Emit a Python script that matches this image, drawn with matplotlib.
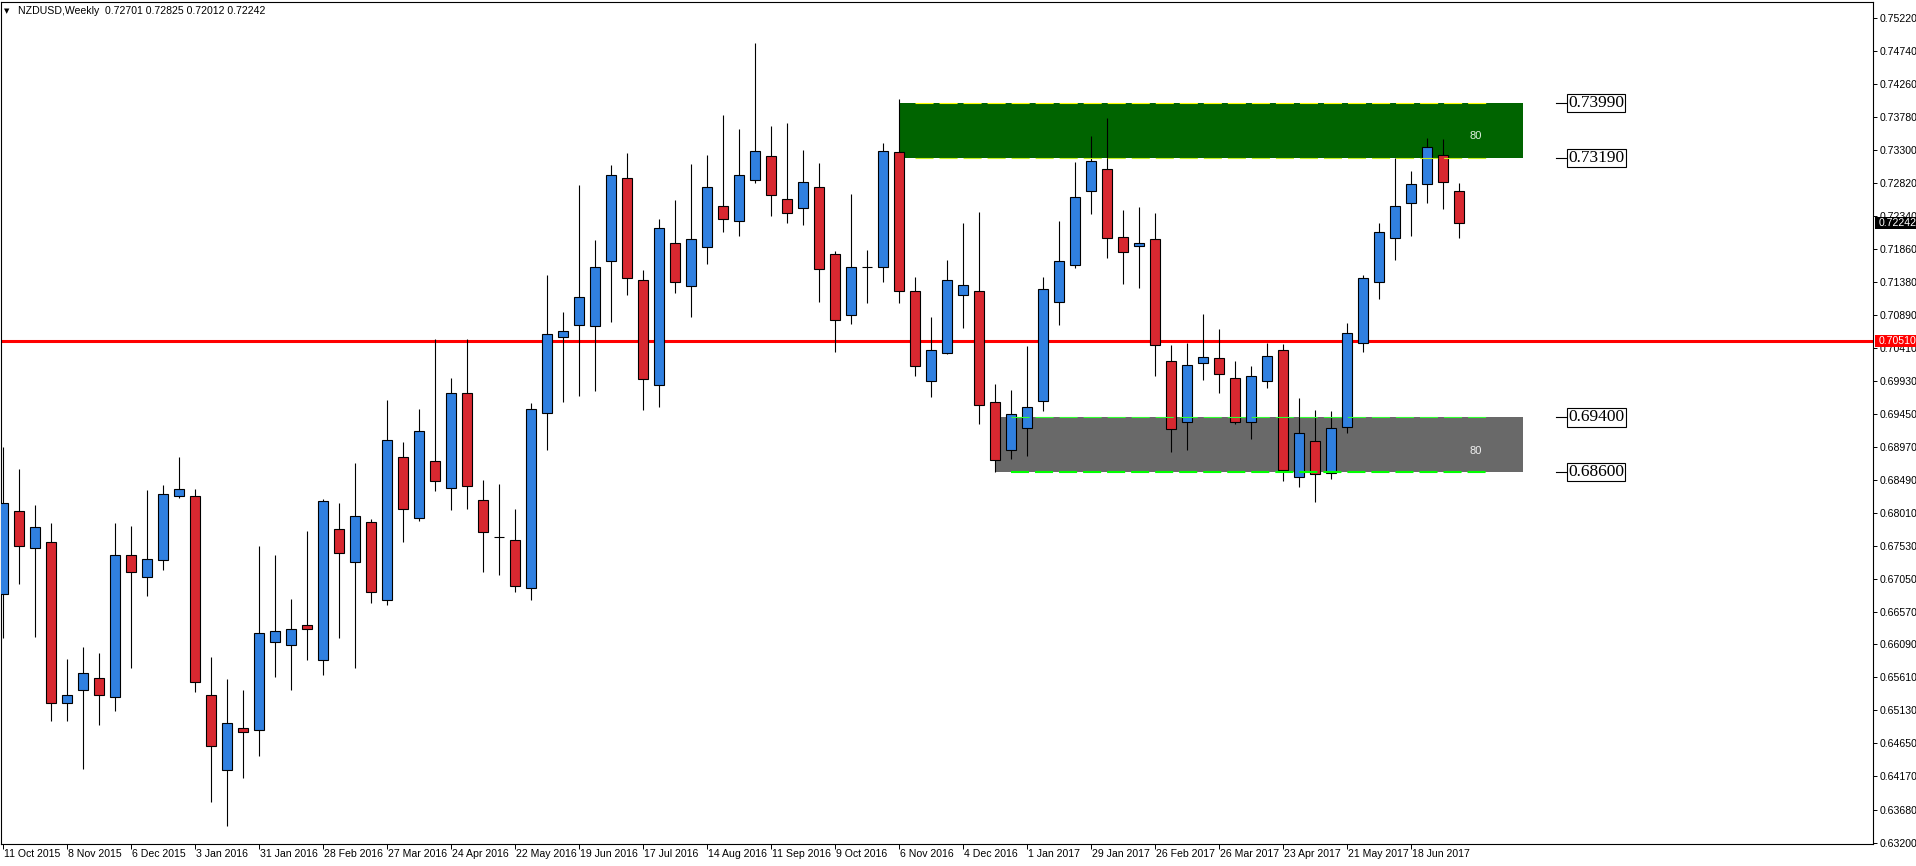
import matplotlib
matplotlib.use('Agg')
import matplotlib.pyplot as plt
from matplotlib import font_manager
from matplotlib.patches import Rectangle

# weekly NZDUSD candles (11 Oct 2015 .. 9 Jul 2017)
opens = [0.6683, 0.6804, 0.6749, 0.6758, 0.6524, 0.6543, 0.6560, 0.6533, 0.6739, 0.6707,
         0.6732, 0.6826, 0.6825, 0.6535, 0.6426, 0.6487, 0.6484, 0.6613, 0.6608, 0.6638,
         0.6586, 0.6778, 0.6730, 0.6787, 0.6674, 0.6882, 0.6794, 0.6876, 0.6837, 0.6975,
         0.6819, 0.6766, 0.6762, 0.6691, 0.6947, 0.7057, 0.7075, 0.7074, 0.7168, 0.7289,
         0.7141, 0.6988, 0.7195, 0.7131, 0.7188, 0.7248, 0.7227, 0.7286, 0.7321, 0.7258,
         0.7245, 0.7276, 0.7179, 0.7090, 0.7159, 0.7159, 0.7327, 0.7125, 0.6993, 0.7034,
         0.7118, 0.7125, 0.6962, 0.6892, 0.6924, 0.6964, 0.7108, 0.7162, 0.7270, 0.7303,
         0.7203, 0.7190, 0.7200, 0.7022, 0.6933, 0.7020, 0.7026, 0.6997, 0.6933, 0.6993,
         0.7039, 0.6853, 0.6905, 0.6859, 0.6926, 0.7048, 0.7137, 0.7201, 0.7252, 0.7280,
         0.7322, 0.72701]
highs = [0.6897, 0.6865, 0.6813, 0.6786, 0.6588, 0.6605, 0.6597, 0.6786, 0.6782, 0.6834,
         0.6842, 0.6883, 0.6836, 0.6591, 0.6559, 0.6543, 0.6753, 0.6740, 0.6675, 0.6775,
         0.6821, 0.6815, 0.6874, 0.6792, 0.6965, 0.6904, 0.6952, 0.7055, 0.6997, 0.7055,
         0.6849, 0.6843, 0.6807, 0.6961, 0.7148, 0.7094, 0.7279, 0.7199, 0.7308, 0.7326,
         0.7155, 0.7229, 0.7257, 0.7310, 0.7323, 0.7381, 0.7361, 0.7486, 0.7365, 0.7369,
         0.7330, 0.7311, 0.7183, 0.7266, 0.7184, 0.7340, 0.7404, 0.7145, 0.7087, 0.7170,
         0.7224, 0.7240, 0.6989, 0.6980, 0.7044, 0.7145, 0.7227, 0.7313, 0.7350, 0.7377,
         0.7243, 0.7247, 0.7238, 0.7045, 0.7048, 0.7091, 0.7069, 0.7022, 0.7015, 0.7049,
         0.7047, 0.6968, 0.6951, 0.6949, 0.7078, 0.7148, 0.7223, 0.7318, 0.7299, 0.7347,
         0.7346, 0.72825]
lows = [0.6618, 0.6697, 0.6620, 0.6497, 0.6497, 0.6428, 0.6492, 0.6512, 0.6575, 0.6680,
        0.6718, 0.6823, 0.6540, 0.6380, 0.6345, 0.6415, 0.6446, 0.6562, 0.6543, 0.6586,
        0.6564, 0.6618, 0.6574, 0.6670, 0.6667, 0.6758, 0.6789, 0.6833, 0.6805, 0.6807,
        0.6715, 0.6710, 0.6686, 0.6674, 0.6892, 0.6963, 0.6971, 0.6979, 0.7079, 0.7119,
        0.6951, 0.6955, 0.7122, 0.7087, 0.7164, 0.7210, 0.7204, 0.7282, 0.7234, 0.7223,
        0.7221, 0.7109, 0.7035, 0.7077, 0.7107, 0.7137, 0.7107, 0.7000, 0.6970, 0.7032,
        0.7070, 0.6931, 0.6861, 0.6879, 0.6884, 0.6949, 0.7075, 0.7158, 0.7236, 0.7173,
        0.7134, 0.7129, 0.7001, 0.6889, 0.6893, 0.6994, 0.6976, 0.6930, 0.6909, 0.6983,
        0.6848, 0.6839, 0.6817, 0.6851, 0.6918, 0.7035, 0.7113, 0.7170, 0.7205, 0.7253,
        0.7244, 0.72012]
closes = [0.6816, 0.6753, 0.6781, 0.6524, 0.6535, 0.6567, 0.6535, 0.6739, 0.6715, 0.6734,
          0.6828, 0.6835, 0.6554, 0.6461, 0.6494, 0.6482, 0.6626, 0.6628, 0.6632, 0.6632,
          0.6818, 0.6743, 0.6796, 0.6685, 0.6907, 0.6806, 0.6920, 0.6847, 0.6976, 0.6840,
          0.6773, 0.6766, 0.6695, 0.6952, 0.7061, 0.7066, 0.7116, 0.7160, 0.7293, 0.7144,
          0.6996, 0.7217, 0.7137, 0.7200, 0.7276, 0.7229, 0.7293, 0.7328, 0.7265, 0.7238,
          0.7283, 0.7156, 0.7082, 0.7160, 0.7159, 0.7328, 0.7124, 0.7015, 0.7039, 0.7140,
          0.7133, 0.6958, 0.6878, 0.6945, 0.6955, 0.7127, 0.7168, 0.7262, 0.7314, 0.7201,
          0.7182, 0.7195, 0.7045, 0.6923, 0.7016, 0.7028, 0.7003, 0.6934, 0.7001, 0.7029,
          0.6863, 0.6918, 0.6857, 0.6924, 0.7063, 0.7144, 0.7210, 0.7249, 0.7281, 0.7334,
          0.7283, 0.72242]

date_labels = ['11 Oct 2015', '8 Nov 2015', '6 Dec 2015', '3 Jan 2016', '31 Jan 2016',
               '28 Feb 2016', '27 Mar 2016', '24 Apr 2016', '22 May 2016', '19 Jun 2016',
               '17 Jul 2016', '14 Aug 2016', '11 Sep 2016', '9 Oct 2016', '6 Nov 2016',
               '4 Dec 2016', '1 Jan 2017', '29 Jan 2017', '26 Feb 2017', '26 Mar 2017',
               '23 Apr 2017', '21 May 2017', '18 Jun 2017']
price_ticks = [0.75220, 0.74740, 0.74260, 0.73780, 0.73300, 0.72820, 0.72340, 0.71860,
               0.71380, 0.70890, 0.70410, 0.69930, 0.69450, 0.68970, 0.68490, 0.68010,
               0.67530, 0.67050, 0.66570, 0.66090, 0.65610, 0.65130, 0.64650, 0.64170,
               0.63680, 0.63200]

level_line = 0.70510
supply_zone = (0.73190, 0.73990)
demand_zone = (0.68600, 0.69400)
zone_strength = '80'
header = 'NZDUSD,Weekly  0.72701 0.72825 0.72012 0.72242'

names = {f.name for f in font_manager.fontManager.ttflist}
ui_font = 'Liberation Sans Narrow' if 'Liberation Sans Narrow' in names else 'Liberation Sans'
plt.rcParams['font.family'] = [ui_font, 'DejaVu Sans']
plt.rcParams['lines.scale_dashes'] = False

W, H = 1916, 866
fig = plt.figure(figsize=(W / 100, H / 100), dpi=100)
ax_l, ax_r, ax_t, ax_b = 1, 1873, 2, 844
pos = [ax_l / W, (H - ax_b) / H, (ax_r - ax_l) / W, (ax_b - ax_t) / H]
ax = fig.add_axes(pos)
ymin, ymax = 0.63181, 0.75458
ax.set_xlim(-0.144, 116.86)
ax.set_ylim(ymin, ymax)

BLUE = '#3080E0'
RED = '#D82830'

# zones
ax.fill_between([56, 95], supply_zone[0], supply_zone[1], color='#006400', lw=0, zorder=1)
ax.fill_between([62, 95], demand_zone[0], demand_zone[1], color='#696969', lw=0, zorder=1)

# candles
xs = list(range(len(opens)))
ax.vlines(xs, lows, highs, color='black', lw=0.8, zorder=3)
bottoms = [min(o, c) for o, c in zip(opens, closes)]
heights = [abs(c - o) for o, c in zip(opens, closes)]
cols = [BLUE if c > o else RED for o, c in zip(opens, closes)]
ax.bar(xs, heights, bottom=bottoms, width=0.62, color=cols, edgecolor='black',
       linewidth=0.8, zorder=4)

# zone borders
dash = (0, (13, 4.3))
ax.hlines(supply_zone[1], 57, 93, colors='#FFFF00', lw=0.8, linestyles=[dash], zorder=5)
ax.hlines(supply_zone[0], 57, 93, colors='#C8F020', lw=0.8, linestyles=[dash], zorder=5)
ax.hlines(demand_zone[1], 63, 93, colors='#30FF30', lw=0.8, linestyles=[dash], zorder=5)
ax.hlines(demand_zone[0], 63, 93, colors='#00FF00', lw=1.5, linestyles=[dash], zorder=5)
ax.text(92, 0.7350, zone_strength, color='#E0F0E0', fontsize=8, ha='center', va='center',
        family='Liberation Sans', zorder=6)
ax.text(92, 0.6891, zone_strength, color='#F0F0F0', fontsize=8, ha='center', va='center',
        family='Liberation Sans', zorder=6)

# level line
ax.axhline(level_line, color='#FF0000', lw=2.2, zorder=2)

# zone price labels
for lv in [supply_zone[1], supply_zone[0], demand_zone[1], demand_zone[0]]:
    ax.plot([97.05, 97.75], [lv, lv], color='black', lw=0.8, zorder=6)
    ax.text(97.82, lv, f'{lv:.5f}', family='Liberation Serif', fontsize=12.5, ha='left',
            va='center', zorder=7,
            bbox=dict(boxstyle='square,pad=0.06', fc='white', ec='black', lw=0.8))

# axes styling
for s in ax.spines.values():
    s.set_color('black')
    s.set_linewidth(0.8)
ax.yaxis.tick_right()
ax.set_yticks(price_ticks)
ax.set_yticklabels([f'{v:.5f}' for v in price_ticks])
ax.tick_params(axis='y', length=3, width=0.7, pad=1.5, labelsize=7.6, colors='black')
ax.set_xticks(range(0, 4 * len(date_labels), 4))
ax.set_xticklabels([])
ax.tick_params(axis='x', length=3.5, width=0.7)
tr = ax.get_xaxis_transform()
for k, lab in enumerate(date_labels):
    ax.text(4 * k + 0.06, -0.006, lab, transform=tr, ha='left', va='top', fontsize=7.6,
            clip_on=False)


def fig_y(p):
    return pos[1] + (p - ymin) / (ymax - ymin) * pos[3]


# right-axis markers for current price and level line
for val, fc in [(closes[-1], 'black'), (level_line, '#FF0000')]:
    yf = fig_y(val)
    fig.add_artist(Rectangle((1875 / W, yf - 6 / H), 41 / W, 12 / H, transform=fig.transFigure,
                             fc=fc, ec='none', zorder=10))
    fig.text(1879 / W, yf, f'{val:.5f}', color='white', fontsize=7.6, va='center', ha='left',
             zorder=11)

# header
fig.text(7 / W, 1 - 11 / H, '\u25bc', family='DejaVu Sans', fontsize=5, ha='center',
         va='center', color='black')
fig.text(18 / W, 1 - 11 / H, header, fontsize=7.6, ha='left', va='center', color='black')

fig.savefig('out.png', dpi=100)
